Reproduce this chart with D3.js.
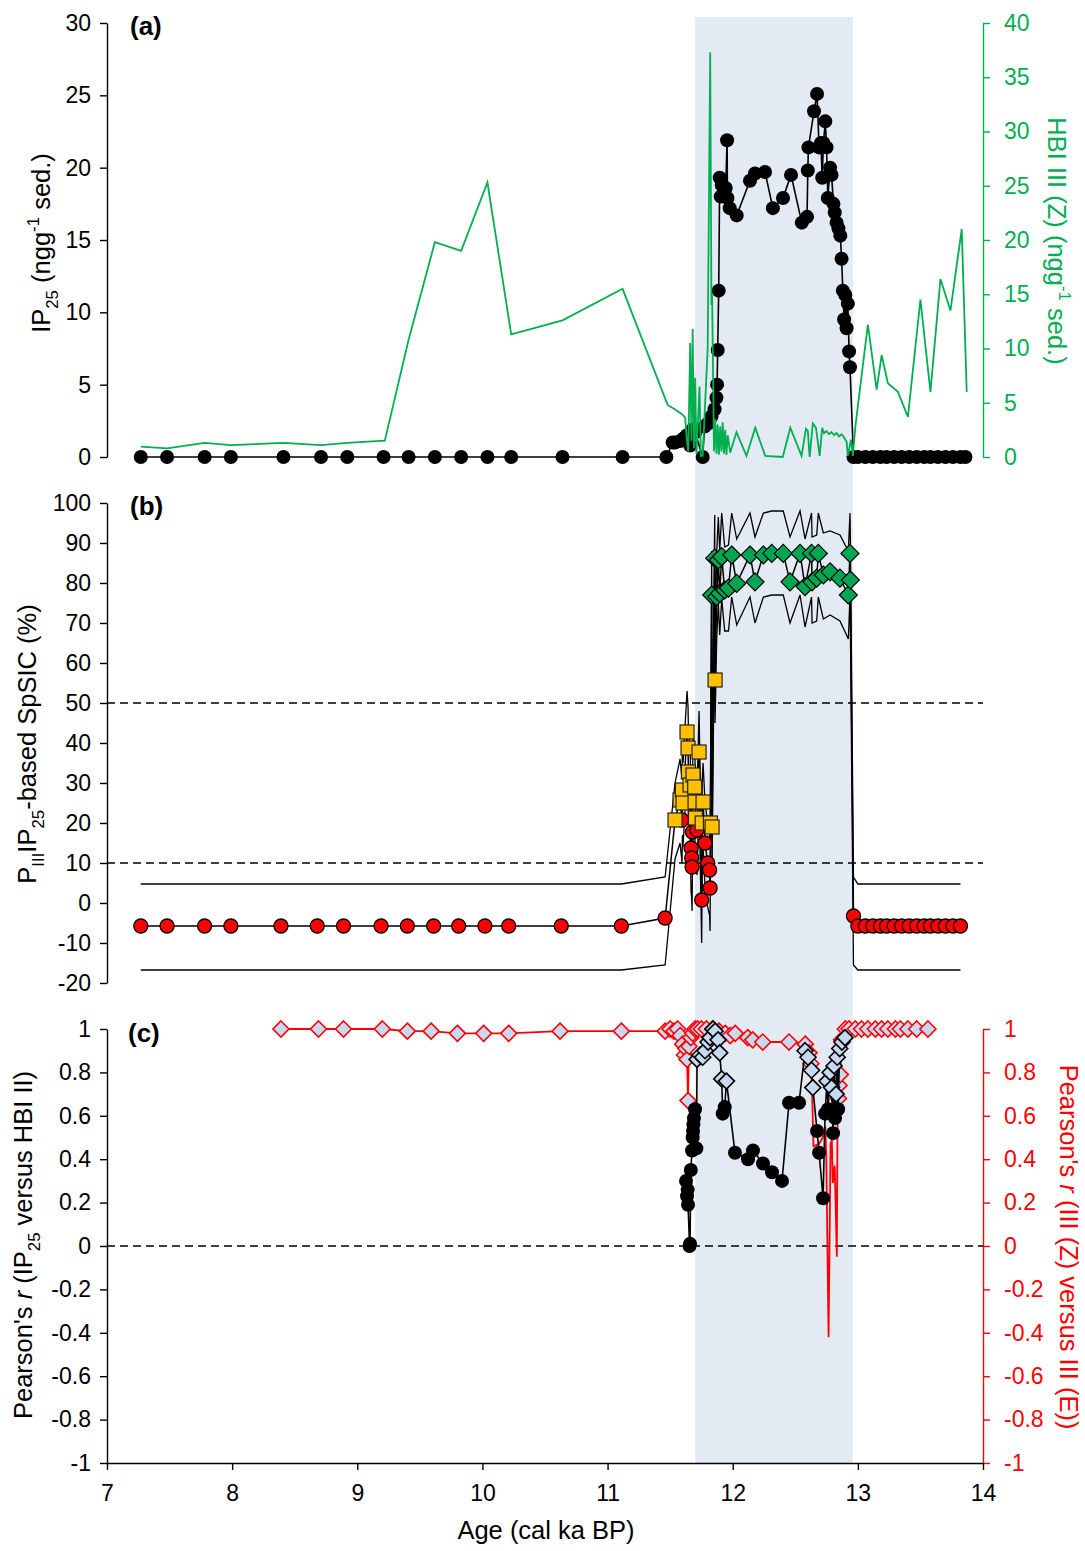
<!DOCTYPE html>
<html>
<head>
<meta charset="utf-8">
<script src="https://cdn.jsdelivr.net/npm/d3@7"></script>
<style>
body { margin: 0; background: #fff; }
svg text { font-family: "Liberation Sans", Arial, sans-serif; }
</style>
</head>
<body>
<div id="chart"></div>
<script>
//Tick labels
var ageTicks = [7, 8, 9, 10, 11, 12, 13, 14];
var ip25Ticks = [0, 5, 10, 15, 20, 25, 30];
var hbiTicks = [0, 5, 10, 15, 20, 25, 30, 35, 40];
var sicTicks = [-20, -10, 0, 10, 20, 30, 40, 50, 60, 70, 80, 90, 100];
var rTicks = [-1, -0.8, -0.6, -0.4, -0.2, 0, 0.2, 0.4, 0.6, 0.8, 1];
var sicRefLines = [10, 50];
var rRefLines = [0];
var bandAges = [11.70, 12.96];

//(a) IP25 [age, ngg-1]
var ip25Points = [
  [7.27,0],[7.48,0],[7.78,0],[7.99,0],[8.41,0],[8.71,0],[8.92,0],[9.21,0],[9.41,0],[9.62,0],
  [9.83,0],[10.04,0],[10.23,0],[10.64,0],[11.12,0],[11.47,0],
  [11.52,1.0],[11.54,1.0],[11.58,1.1],[11.61,1.3],[11.635,1.5],[11.66,0.8],[11.68,1.9],[11.70,1.7],
  [11.76,0.0],[11.775,2.1],[11.80,2.3],[11.83,2.8],[11.855,3.3],[11.87,4.1],[11.875,5.0],[11.88,7.4],
  [11.888,11.5],[11.896,19.3],[11.904,18.0],[11.912,18.8],[11.92,18.1],[11.944,18.6],[11.955,21.9],
  [11.958,17.9],[11.976,17.2],[12.032,16.7],[12.138,19.1],[12.178,19.6],[12.258,19.7],[12.321,17.2],
  [12.402,17.9],[12.466,19.5],[12.552,16.2],[12.594,16.6],[12.60,19.8],[12.605,21.4],[12.65,23.9],
  [12.674,25.1],[12.69,21.4],[12.705,21.7],[12.715,19.3],[12.725,21.7],[12.74,23.2],[12.75,21.4],
  [12.76,17.9],[12.778,20.0],[12.79,19.5],[12.805,17.5],[12.815,16.9],[12.83,16.2],[12.845,15.8],
  [12.86,15.3],[12.87,13.7],[12.88,11.5],[12.89,9.5],[12.90,11.2],[12.91,8.9],[12.92,10.6],
  [12.93,7.3],[12.937,6.2],[12.965,0],
  [13.00,0],[13.06,0],[13.12,0],[13.18,0],[13.23,0],[13.29,0],[13.35,0],[13.41,0],[13.47,0],
  [13.53,0],[13.58,0],[13.64,0],[13.70,0],[13.76,0],[13.82,0],[13.86,0]
];

//(a) HBI III (Z) [age, ngg-1]
var hbiPoints = [
  [7.27,0.95],[7.48,0.8],[7.78,1.3],[7.99,1.1],[8.41,1.3],[8.71,1.1],[8.92,1.3],[9.22,1.5],
  [9.41,10.8],[9.62,19.8],[9.83,19.0],[10.04,25.3],[10.23,11.3],[10.64,12.6],[11.12,15.5],
  [11.48,4.8],[11.55,4.3],[11.60,3.9],[11.62,3.6],[11.635,1.4],[11.645,0.5],[11.66,10.5],
  [11.67,1.5],[11.68,11.8],[11.69,0.8],[11.70,7.3],[11.71,0.3],[11.735,6.5],[11.745,0.1],
  [11.76,0.1],[11.80,10.0],[11.82,37.3],[11.83,14.0],[11.835,15.0],[11.845,6.0],[11.85,0.5],
  [11.86,3.5],[11.87,0.3],[11.88,3.0],[11.89,0.2],[11.90,2.8],[11.91,0.5],[11.92,3.2],[11.93,0.3],
  [11.94,2.5],[11.95,0.2],[11.96,2.0],[11.98,0.4],[12.03,2.3],[12.11,0.1],[12.18,2.7],[12.26,0.1],
  [12.40,0.0],[12.46,2.7],[12.55,0.1],[12.585,2.6],[12.60,2.4],[12.615,0.0],[12.64,3.1],[12.665,2.7],
  [12.695,0.1],[12.715,2.7],[12.73,2.2],[12.75,2.4],[12.77,2.1],[12.79,2.3],[12.81,2.0],[12.83,2.2],
  [12.85,1.9],[12.87,2.1],[12.89,1.8],[12.91,1.4],[12.92,0.1],[12.945,1.6],[12.96,0.1],[12.98,2.8],
  [13.08,12.2],[13.15,6.2],[13.19,9.4],[13.24,6.8],[13.32,6.0],[13.40,3.7],[13.50,14.5],[13.58,6.0],
  [13.66,16.4],[13.74,13.5],[13.83,21.0],[13.87,6.0]
];

//(b) PIIIIP25 SpSIC [age, %, upper, lower, symbol]  r = red circle, y = square, g = diamond
var sicPoints = [
  [7.27,-5.75,4.75,-16.75,"r"],[7.48,-5.75,4.75,-16.75,"r"],[7.78,-5.75,4.75,-16.75,"r"],
  [7.99,-5.75,4.75,-16.75,"r"],[8.39,-5.75,4.75,-16.75,"r"],[8.68,-5.75,4.75,-16.75,"r"],
  [8.89,-5.75,4.75,-16.75,"r"],[9.19,-5.75,4.75,-16.75,"r"],[9.40,-5.75,4.75,-16.75,"r"],
  [9.61,-5.75,4.75,-16.75,"r"],[9.81,-5.75,4.75,-16.75,"r"],[10.02,-5.75,4.75,-16.75,"r"],
  [10.21,-5.75,4.75,-16.75,"r"],[10.63,-5.75,4.75,-16.75,"r"],[11.11,-5.75,4.75,-16.75,"r"],
  [11.46,-3.75,6.5,-15.5,"r"],
  [11.539,20.75,30,11,"y"],[11.579,25.75,36,15,"y"],[11.595,20.75,31,10,"r"],[11.598,28.25,39,17,"y"],
  [11.603,25.0,35,14,"y"],[11.635,42.75,53,32,"y"],[11.643,38.75,49,28,"y"],[11.646,32.75,43,22,"y"],
  [11.659,29.5,40,19,"y"],[11.667,13.75,24,3,"r"],[11.672,11.25,22,1,"r"],[11.675,9.0,20,-2,"r"],
  [11.678,17.75,28,7,"r"],[11.683,32.0,42,21,"y"],[11.696,29.0,39,18,"y"],[11.699,25.25,35,14,"y"],
  [11.702,21.25,31,10,"y"],[11.715,18.25,28,7,"r"],[11.731,37.75,48,27,"y"],[11.752,0.75,11,-10,"r"],
  [11.756,20.0,30,9,"y"],[11.763,25.25,35,14,"y"],[11.779,15.0,25,4,"r"],[11.800,10.0,20,-1,"r"],
  [11.815,8.25,18,-3,"r"],[11.819,3.75,14,-7,"r"],[11.822,20.0,30,9,"y"],[11.832,77.0,88,66,"g"],
  [11.835,19.0,29,8,"y"],[11.856,86.2,97,75.5,"g"],[11.859,55.75,66,45,"y"],[11.872,76.6,87.5,66,"g"],
  [11.885,85.75,96.5,75,"g"],[11.896,77.4,88,67,"g"],[11.912,86.6,97.5,76,"g"],[11.936,78.25,89,68,"g"],
  [11.966,78.7,89.5,68,"g"],[11.992,87.0,97.5,76.5,"g"],[12.032,79.9,91,69.5,"g"],[12.138,87.0,97.5,76.5,"g"],
  [12.178,80.3,91.5,70,"g"],[12.245,87.0,97.5,76.5,"g"],[12.312,87.4,98,77,"g"],[12.404,87.4,98,77,"g"],
  [12.458,80.3,91.5,70,"g"],[12.538,87.4,98,77,"g"],[12.578,79.1,91,69,"g"],[12.630,87.4,97.5,76.5,"g"],
  [12.634,80.3,91.5,70,"g"],[12.671,81.2,92,70.5,"g"],[12.684,87.4,97.5,76.5,"g"],[12.724,82.0,92.5,71,"g"],
  [12.778,82.8,93,72,"g"],[12.857,81.2,92,70.5,"g"],[12.924,77.0,88,66,"g"],[12.937,87.4,97.5,76.5,"g"],
  [12.940,80.75,91.5,70,"g"],
  [12.965,-3.25,6.5,-15.5,"r"],
  [13.00,-5.75,4.75,-16.75,"r"],[13.06,-5.75,4.75,-16.75,"r"],[13.12,-5.75,4.75,-16.75,"r"],
  [13.18,-5.75,4.75,-16.75,"r"],[13.23,-5.75,4.75,-16.75,"r"],[13.29,-5.75,4.75,-16.75,"r"],
  [13.35,-5.75,4.75,-16.75,"r"],[13.41,-5.75,4.75,-16.75,"r"],[13.47,-5.75,4.75,-16.75,"r"],
  [13.53,-5.75,4.75,-16.75,"r"],[13.58,-5.75,4.75,-16.75,"r"],[13.64,-5.75,4.75,-16.75,"r"],
  [13.70,-5.75,4.75,-16.75,"r"],[13.76,-5.75,4.75,-16.75,"r"],[13.82,-5.75,4.75,-16.75,"r"]
];

//(c) Pearson's r, IP25 versus HBI II [age, r, marker]  o = dot, d = diamond
var rIp25Points = [
  [11.627,0.30,"o"],[11.635,0.23,"o"],[11.640,0.26,"o"],[11.643,0.19,"o"],[11.655,0.00,"o"],
  [11.659,0.01,"o"],[11.665,0.35,"o"],[11.675,0.44,"o"],[11.680,0.50,"o"],[11.683,0.53,"o"],
  [11.686,0.56,"o"],[11.690,0.59,"o"],[11.699,0.63,"o"],[11.710,0.45,"o"],[11.715,0.86,"d"],
  [11.739,0.88,"d"],[11.760,0.87,"d"],[11.779,0.90,"d"],[11.803,0.94,"d"],[11.819,0.96,"d"],
  [11.843,1.00,"d"],[11.859,0.99,"d"],[11.883,0.95,"d"],[11.896,0.89,"d"],[11.912,0.77,"d"],
  [11.920,0.61,"o"],[11.936,0.64,"o"],[11.950,0.76,"d"],[12.018,0.43,"o"],[12.122,0.40,"o"],
  [12.162,0.44,"o"],[12.242,0.38,"o"],[12.314,0.34,"o"],[12.394,0.30,"o"],[12.450,0.66,"o"],
  [12.530,0.66,"o"],[12.578,0.90,"d"],[12.602,0.87,"d"],[12.630,0.81,"d"],[12.640,0.73,"d"],
  [12.674,0.53,"o"],[12.690,0.43,"o"],[12.722,0.22,"o"],[12.738,0.61,"o"],[12.754,0.76,"d"],
  [12.762,0.63,"o"],[12.778,0.80,"d"],[12.790,0.73,"d"],[12.802,0.52,"o"],[12.810,0.83,"d"],
  [12.818,0.59,"o"],[12.826,0.70,"d"],[12.835,0.87,"d"],[12.842,0.63,"o"],[12.855,0.91,"d"],
  [12.873,0.94,"d"],[12.897,0.96,"d"]
];

//(c) Pearson's r, III (Z) versus III (E) [age, r, marker]  d = diamond, - = line only
var rHbiPoints = [
  [8.39,1.00,"d"],[8.69,1.00,"d"],[8.89,1.00,"d"],[9.20,1.00,"d"],[9.40,0.99,"d"],[9.59,0.99,"d"],
  [9.80,0.98,"d"],[10.01,0.98,"d"],[10.21,0.98,"d"],[10.62,0.99,"d"],[11.11,0.99,"d"],[11.46,0.99,"d"],
  [11.50,1.00,"d"],[11.53,0.99,"d"],[11.56,1.00,"d"],[11.58,0.97,"d"],[11.60,0.93,"d"],[11.615,0.88,"d"],
  [11.625,0.91,"d"],[11.635,0.86,"d"],[11.643,0.67,"d"],[11.650,0.92,"d"],[11.665,0.96,"d"],
  [11.68,0.98,"d"],[11.70,1.00,"d"],[11.72,1.00,"d"],[11.75,1.00,"d"],[11.79,1.00,"d"],[11.84,1.00,"d"],
  [11.89,0.99,"d"],[11.94,0.98,"d"],[11.98,0.97,"d"],[12.02,0.98,"d"],[12.12,0.96,"d"],[12.16,0.95,"d"],
  [12.24,0.94,"d"],[12.45,0.94,"d"],[12.58,0.93,"d"],[12.61,0.89,"d"],[12.625,0.84,"d"],
  [12.635,0.70,"-"],[12.645,0.46,"-"],[12.69,0.47,"-"],[12.72,0.50,"-"],[12.74,0.55,"-"],
  [12.748,0.40,"-"],[12.766,-0.42,"-"],[12.782,0.47,"-"],[12.792,0.49,"-"],[12.80,0.29,"-"],
  [12.815,0.37,"-"],[12.832,-0.05,"-"],[12.838,0.63,"-"],
  [12.845,0.68,"d"],[12.85,0.74,"d"],[12.86,0.79,"d"],[12.87,0.95,"d"],[12.90,1.00,"d"],[12.93,1.00,"d"],
  [12.98,1.00,"d"],[13.03,1.00,"d"],[13.08,1.00,"d"],[13.14,1.00,"d"],[13.19,1.00,"d"],[13.24,1.00,"d"],
  [13.30,1.00,"d"],[13.34,1.00,"d"],[13.40,1.00,"d"],[13.47,1.00,"d"],[13.56,1.00,"d"]
];

var GREEN = "#00b050", RED = "#ff0000", BAND = "#e4eaf3", PALE = "#c6d9f0";
var FS = 23;
var TFS = 25.5;

var svg = d3.select("#chart").append("svg").attr("width", 1085).attr("height", 1551);

var x = d3.scaleLinear().domain([7, 14]).range([107, 983]);
var yA = d3.scaleLinear().domain([0, 30]).range([457, 23]);
var yA2 = d3.scaleLinear().domain([0, 40]).range([457, 23]);
var yB = d3.scaleLinear().domain([-20, 100]).range([983, 503]);
var yC = d3.scaleLinear().domain([-1, 1]).range([1463, 1029]);

var numFmt = function(d) { return String(+d.toFixed(1)); };

//shaded interval behind all panels
svg.append("rect")
  .attr("x", x(bandAges[0])).attr("y", 17)
  .attr("width", x(bandAges[1]) - x(bandAges[0])).attr("height", 1463 - 17)
  .attr("fill", BAND);

function drawAxis(axis, tx, ty, color) {
  var g = svg.append("g").attr("transform", "translate(" + tx + "," + ty + ")").call(axis.tickFormat(numFmt));
  g.selectAll("path, line").attr("stroke", color).attr("stroke-width", 1.4);
  g.selectAll("text").attr("fill", color).attr("font-size", FS)
    .attr("font-family", "'Liberation Sans', Arial, sans-serif");
  return g;
}

function lineOf(points, y, idx) {
  return d3.line()(points.map(function(p) { return [x(p[0]), y(p[idx])]; }));
}

function diamond(g, cx, cy, half, fill, stroke, sw) {
  g.append("path")
    .attr("d", "M" + cx + "," + (cy - half) + "L" + (cx + half) + "," + cy + "L" + cx + "," + (cy + half) + "L" + (cx - half) + "," + cy + "Z")
    .attr("fill", fill).attr("stroke", stroke).attr("stroke-width", sw);
}

function richText(t, parts, fs) {
  var shift = 0;
  parts.forEach(function(p) {
    var target = p[1] == "sub" ? fs * 0.3 : (p[1] == "sup" ? -fs * 0.42 : 0);
    var ts = t.append("tspan").text(p[0]).attr("dy", target - shift);
    shift = target;
    if (p[1] == "sub" || p[1] == "sup") ts.attr("font-size", fs * 0.66);
    if (p[1] == "i") ts.attr("font-style", "italic");
  });
}

function title(tx, ty, angle, color, parts) {
  var t = svg.append("text")
    .attr("transform", "translate(" + tx + "," + ty + ") rotate(" + angle + ")")
    .attr("text-anchor", "middle").attr("font-size", TFS).attr("fill", color);
  richText(t, parts, TFS);
}

function panelLabel(tx, ty, s) {
  svg.append("text").attr("x", tx).attr("y", ty).attr("font-size", 26)
    .attr("font-weight", "bold").text(s);
}

//Panel (a)
drawAxis(d3.axisLeft(yA).tickValues(ip25Ticks).tickSize(7).tickSizeOuter(0).tickPadding(9), 107, 0, "#000");
drawAxis(d3.axisRight(yA2).tickValues(hbiTicks).tickSize(7).tickSizeOuter(0).tickPadding(14), 983, 0, GREEN);

var gA = svg.append("g");
gA.append("path").attr("d", lineOf(ip25Points, yA, 1)).attr("fill", "none")
  .attr("stroke", "#000").attr("stroke-width", 1.6);
gA.selectAll("circle").data(ip25Points).enter().append("circle")
  .attr("cx", function(d) { return x(d[0]); }).attr("cy", function(d) { return yA(d[1]); })
  .attr("r", 7).attr("fill", "#000");
gA.append("path").attr("d", lineOf(hbiPoints, yA2, 1)).attr("fill", "none")
  .attr("stroke", GREEN).attr("stroke-width", 1.8);

panelLabel(130, 35, "(a)");
title(50, 243, -90, "#000", [["IP", ""], ["25", "sub"], [" (ngg", ""], ["-1", "sup"], [" sed.)", ""]]);
title(1048, 241, 90, GREEN, [["HBI III (Z) (ngg", ""], ["-1", "sup"], [" sed.)", ""]]);

//Panel (b)
drawAxis(d3.axisLeft(yB).tickValues(sicTicks).tickSize(7).tickSizeOuter(0).tickPadding(9), 107, 0, "#000");

var gB = svg.append("g");
sicRefLines.forEach(function(v) {
  gB.append("line").attr("x1", 107).attr("x2", 983).attr("y1", yB(v)).attr("y2", yB(v))
    .attr("stroke", "#000").attr("stroke-width", 1.4).attr("stroke-dasharray", "8,5");
});
[3, 2, 1].forEach(function(idx) {
  gB.append("path").attr("d", lineOf(sicPoints, yB, idx)).attr("fill", "none")
    .attr("stroke", "#000").attr("stroke-width", idx == 1 ? 1.5 : 1.3);
});
sicPoints.filter(function(d) { return d[4] == "r"; }).forEach(function(d) {
  gB.append("circle").attr("cx", x(d[0])).attr("cy", yB(d[1])).attr("r", 7)
    .attr("fill", RED).attr("stroke", "#000").attr("stroke-width", 1.3);
});
sicPoints.filter(function(d) { return d[4] == "y"; }).forEach(function(d) {
  gB.append("rect").attr("x", x(d[0]) - 7).attr("y", yB(d[1]) - 7).attr("width", 14).attr("height", 14)
    .attr("fill", "#ffc000").attr("stroke", "#222").attr("stroke-width", 1.2);
});
sicPoints.filter(function(d) { return d[4] == "g"; }).forEach(function(d) {
  diamond(gB, x(d[0]), yB(d[1]), 9, "#00a651", "#000", 1.2);
});

panelLabel(130, 515, "(b)");
title(36, 744, -90, "#000", [["P", ""], ["III", "sub"], ["IP", ""], ["25", "sub"], ["-based SpSIC  (%)", ""]]);

//Panel (c)
drawAxis(d3.axisLeft(yC).tickValues(rTicks).tickSize(7).tickSizeOuter(0).tickPadding(9), 107, 0, "#000");
drawAxis(d3.axisRight(yC).tickValues(rTicks).tickSize(7).tickSizeOuter(0).tickPadding(14), 983, 0, RED);
drawAxis(d3.axisBottom(x).tickValues(ageTicks).tickSize(7).tickSizeOuter(0).tickPadding(15), 0, 1463, "#000");

var gC = svg.append("g");
rRefLines.forEach(function(v) {
  gC.append("line").attr("x1", 107).attr("x2", 983).attr("y1", yC(v)).attr("y2", yC(v))
    .attr("stroke", "#000").attr("stroke-width", 1.4).attr("stroke-dasharray", "8,5");
});
gC.append("path").attr("d", lineOf(rHbiPoints, yC, 1)).attr("fill", "none")
  .attr("stroke", RED).attr("stroke-width", 1.8);
rHbiPoints.filter(function(d) { return d[2] == "d"; }).forEach(function(d) {
  diamond(gC, x(d[0]), yC(d[1]), 8, PALE, RED, 1.6);
});
gC.append("path").attr("d", lineOf(rIp25Points, yC, 1)).attr("fill", "none")
  .attr("stroke", "#000").attr("stroke-width", 1.6);
rIp25Points.forEach(function(d) {
  if (d[2] == "o") {
    gC.append("circle").attr("cx", x(d[0])).attr("cy", yC(d[1])).attr("r", 7).attr("fill", "#000");
  } else {
    diamond(gC, x(d[0]), yC(d[1]), 8, PALE, "#000", 1.6);
  }
});

panelLabel(128, 1042, "(c)");
title(32, 1245, -90, "#000", [["Pearson's  ", ""], ["r", "i"], [" (IP", ""], ["25", "sub"], [" versus  HBI II)", ""]]);
title(1060, 1247, 90, RED, [["Pearson's  ", ""], ["r", "i"], [" (III  (Z)  versus  III  (E))", ""]]);

svg.append("text").attr("x", 546).attr("y", 1539).attr("text-anchor", "middle")
  .attr("font-size", TFS).text("Age (cal ka BP)");
</script>
</body>
</html>
